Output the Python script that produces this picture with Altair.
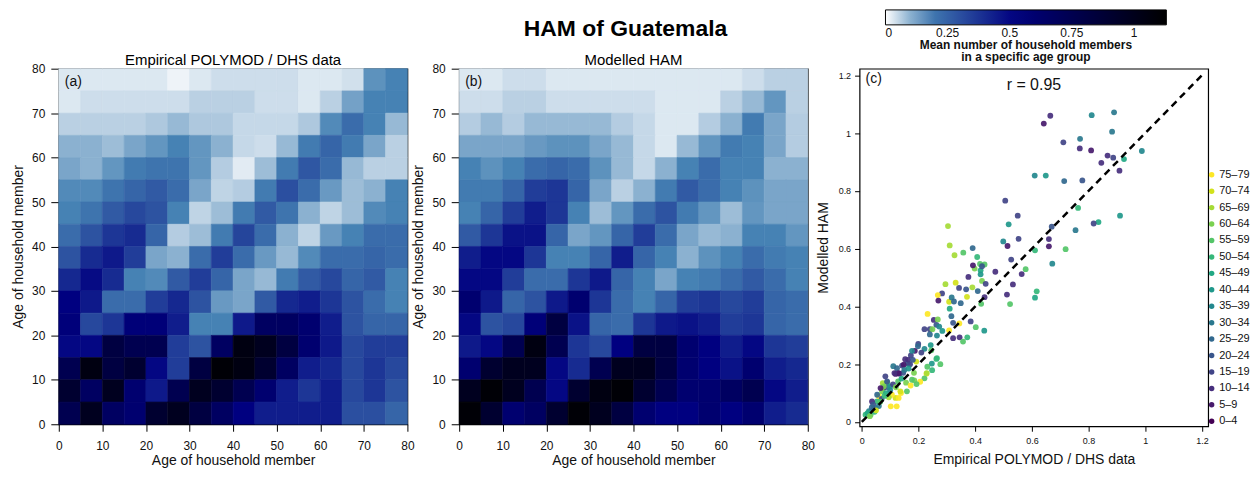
import altair as alt
import pandas as pd

FONT = "Liberation Sans"

# ---------------- data ----------------
age_starts = [0, 5, 10, 15, 20, 25, 30, 35, 40, 45, 50, 55, 60, 65, 70, 75]
age_groups = ["0–4", "5–9", "10–14", "15–19", "20–24", "25–29", "30–34", "35–39",
              "40–44", "45–49", "50–54", "55–59", "60–64", "65–69", "70–74", "75–79"]
axis_ticks = [0, 10, 20, 30, 40, 50, 60, 70, 80]

# Empirical POLYMOD / DHS matrix, rows from oldest (75-79) to youngest (0-4)
emp_rows = [
    [0.03, 0.03, 0.03, 0.03, 0.03, 0.015, 0.03, 0.043, 0.043, 0.043, 0.043, 0.03, 0.03, 0.04, 0.14, 0.16],
    [0.03, 0.043, 0.043, 0.043, 0.043, 0.043, 0.06, 0.06, 0.06, 0.043, 0.043, 0.03, 0.06, 0.12, 0.16, 0.16],
    [0.06, 0.06, 0.06, 0.06, 0.07, 0.09, 0.07, 0.07, 0.05, 0.05, 0.05, 0.07, 0.15, 0.22, 0.16, 0.09],
    [0.1, 0.1, 0.085, 0.115, 0.135, 0.16, 0.135, 0.1, 0.05, 0.043, 0.09, 0.18, 0.24, 0.18, 0.115, 0.06],
    [0.115, 0.1, 0.135, 0.18, 0.2, 0.2, 0.135, 0.065, 0.025, 0.085, 0.18, 0.28, 0.22, 0.09, 0.06, 0.06],
    [0.15, 0.15, 0.2, 0.24, 0.27, 0.22, 0.115, 0.055, 0.065, 0.18, 0.3, 0.22, 0.13, 0.085, 0.1, 0.16],
    [0.16, 0.2, 0.27, 0.32, 0.29, 0.16, 0.055, 0.085, 0.18, 0.27, 0.2, 0.1, 0.055, 0.085, 0.15, 0.16],
    [0.22, 0.29, 0.37, 0.4, 0.24, 0.065, 0.085, 0.18, 0.33, 0.22, 0.1, 0.055, 0.13, 0.16, 0.22, 0.22],
    [0.29, 0.4, 0.45, 0.35, 0.115, 0.1, 0.22, 0.35, 0.22, 0.13, 0.09, 0.15, 0.22, 0.22, 0.24, 0.22],
    [0.41, 0.49, 0.4, 0.16, 0.15, 0.27, 0.35, 0.24, 0.115, 0.09, 0.18, 0.27, 0.32, 0.24, 0.27, 0.16],
    [0.52, 0.45, 0.22, 0.22, 0.35, 0.41, 0.29, 0.13, 0.115, 0.27, 0.41, 0.44, 0.37, 0.29, 0.22, 0.16],
    [0.55, 0.32, 0.37, 0.56, 0.56, 0.44, 0.16, 0.16, 0.45, 0.67, 0.67, 0.6, 0.44, 0.29, 0.24, 0.24],
    [0.5, 0.5, 0.82, 0.75, 0.75, 0.35, 0.29, 0.67, 1.05, 0.98, 0.82, 0.6, 0.45, 0.32, 0.35, 0.35],
    [0.75, 1.05, 0.82, 0.9, 0.5, 0.35, 0.82, 1.1, 1.05, 0.9, 0.67, 0.44, 0.41, 0.32, 0.37, 0.32],
    [0.9, 0.67, 0.98, 0.6, 0.45, 0.75, 0.98, 0.9, 0.75, 0.6, 0.44, 0.37, 0.44, 0.32, 0.37, 0.29],
    [0.75, 0.98, 0.67, 0.6, 0.9, 0.98, 0.82, 0.67, 0.52, 0.44, 0.44, 0.44, 0.44, 0.3, 0.3, 0.24],
]

# Modelled HAM matrix, rows from oldest (75-79) to youngest (0-4)
mod_rows = [
    [0.03, 0.03, 0.043, 0.043, 0.03, 0.03, 0.03, 0.03, 0.03, 0.03, 0.03, 0.03, 0.03, 0.043, 0.06, 0.06],
    [0.043, 0.043, 0.06, 0.06, 0.043, 0.043, 0.043, 0.043, 0.043, 0.03, 0.03, 0.03, 0.06, 0.09, 0.135, 0.06],
    [0.065, 0.09, 0.065, 0.09, 0.09, 0.09, 0.09, 0.065, 0.05, 0.03, 0.03, 0.065, 0.1, 0.18, 0.115, 0.065],
    [0.115, 0.115, 0.115, 0.13, 0.14, 0.14, 0.115, 0.09, 0.05, 0.03, 0.09, 0.135, 0.18, 0.16, 0.115, 0.065],
    [0.16, 0.14, 0.16, 0.22, 0.24, 0.22, 0.14, 0.09, 0.05, 0.1, 0.16, 0.22, 0.16, 0.16, 0.1, 0.1],
    [0.18, 0.18, 0.24, 0.35, 0.37, 0.24, 0.115, 0.06, 0.1, 0.18, 0.27, 0.22, 0.16, 0.14, 0.115, 0.115],
    [0.16, 0.24, 0.35, 0.44, 0.37, 0.16, 0.085, 0.135, 0.22, 0.29, 0.18, 0.135, 0.085, 0.135, 0.115, 0.115],
    [0.27, 0.37, 0.47, 0.47, 0.24, 0.115, 0.135, 0.24, 0.35, 0.22, 0.115, 0.09, 0.1, 0.16, 0.16, 0.135],
    [0.44, 0.5, 0.5, 0.37, 0.16, 0.16, 0.24, 0.44, 0.24, 0.16, 0.1, 0.14, 0.16, 0.22, 0.18, 0.16],
    [0.5, 0.5, 0.35, 0.22, 0.22, 0.37, 0.45, 0.24, 0.16, 0.115, 0.16, 0.18, 0.22, 0.27, 0.22, 0.16],
    [0.6, 0.45, 0.24, 0.29, 0.45, 0.6, 0.37, 0.22, 0.16, 0.24, 0.35, 0.37, 0.32, 0.35, 0.24, 0.22],
    [0.5, 0.29, 0.32, 0.56, 0.82, 0.47, 0.24, 0.22, 0.37, 0.45, 0.47, 0.44, 0.35, 0.37, 0.24, 0.22],
    [0.45, 0.5, 0.75, 1.05, 0.75, 0.37, 0.32, 0.52, 0.82, 0.82, 0.6, 0.52, 0.44, 0.5, 0.37, 0.35],
    [0.6, 0.9, 0.98, 0.98, 0.5, 0.4, 0.75, 0.98, 0.98, 0.82, 0.6, 0.52, 0.47, 0.6, 0.44, 0.41],
    [0.98, 1.1, 0.98, 0.75, 0.5, 0.9, 1.05, 1.1, 0.9, 0.75, 0.6, 0.6, 0.67, 0.75, 0.5, 0.44],
    [1.1, 0.9, 0.6, 0.67, 0.9, 1.1, 0.98, 0.82, 0.6, 0.52, 0.52, 0.6, 0.52, 0.6, 0.44, 0.4],
]

# Scatter: empirical value, modelled value, age-group index
emp_x = [0.665, 0.642, 0.811, 0.890, 0.883, 0.770, 0.711, 0.769, 0.809, 0.845, 0.867, 0.887, 0.909, 0.925, 0.988,
         0.610, 0.649, 0.714, 0.778, 0.506, 0.550, 0.518, 0.763, 0.911, 0.835, 0.818, 0.754, 0.670, 0.553, 0.660,
         0.499, 0.514, 0.660, 0.611, 0.719, 0.672, 0.527, 0.578, 0.564, 0.471, 0.533, 0.512, 0.617, 0.611, 0.523,
         0.304, 0.310, 0.327, 0.358, 0.391, 0.407, 0.398, 0.417, 0.433, 0.419, 0.424, 0.392, 0.419, 0.424, 0.437,
         0.409, 0.376, 0.368, 0.343, 0.390, 0.371, 0.421, 0.433, 0.295, 0.331, 0.283, 0.268, 0.270, 0.308, 0.317,
         0.325, 0.349, 0.310, 0.316, 0.232, 0.254, 0.268, 0.322, 0.344, 0.384, 0.263, 0.273, 0.221, 0.240, 0.249,
         0.284, 0.308, 0.402, 0.432, 0.240, 0.265, 0.322, 0.345, 0.357, 0.372, 0.243, 0.199, 0.187, 0.221, 0.245,
         0.263, 0.277, 0.247, 0.231, 0.248, 0.228, 0.221, 0.206, 0.184, 0.192, 0.173, 0.153, 0.162, 0.142, 0.111,
         0.124, 0.119, 0.133, 0.146, 0.128, 0.156, 0.172, 0.185, 0.193, 0.159, 0.138, 0.123, 0.102, 0.119, 0.074,
         0.090, 0.092, 0.076, 0.089, 0.077, 0.100, 0.177, 0.136, 0.106, 0.130, 0.054, 0.036, 0.048, 0.025, 0.013,
         0.031, 0.042, 0.060, 0.071, 0.083, 0.066, 0.054, 0.198, 0.177, 0.163, 0.148, 0.130, 0.115, 0.229, 0.265,
         0.020, 0.028, 0.045, 0.060, 0.070, 0.085, 0.095, 0.040, 0.065, 0.110, 0.100, 0.140, 0.150, 0.170, 0.180,
         0.210, 0.050, 0.035, 0.080, 0.120, 0.165]
mod_y = [1.060, 1.033, 1.062, 1.072, 1.005, 0.980, 0.968, 0.947, 0.940, 0.897, 0.922, 0.915, 0.870, 0.910, 0.938,
         0.853, 0.853, 0.834, 0.836, 0.766, 0.714, 0.684, 0.741, 0.714, 0.692, 0.687, 0.664, 0.676, 0.634, 0.633,
         0.625, 0.609, 0.608, 0.594, 0.598, 0.548, 0.562, 0.529, 0.512, 0.520, 0.476, 0.441, 0.452, 0.430, 0.408,
         0.678, 0.611, 0.577, 0.586, 0.602, 0.571, 0.531, 0.547, 0.545, 0.525, 0.539, 0.542, 0.511, 0.488, 0.478,
         0.453, 0.502, 0.459, 0.464, 0.466, 0.433, 0.409, 0.432, 0.477, 0.482, 0.445, 0.439, 0.420, 0.416, 0.431,
         0.417, 0.411, 0.392, 0.366, 0.374, 0.353, 0.355, 0.343, 0.341, 0.348, 0.336, 0.330, 0.321, 0.321, 0.321,
         0.315, 0.317, 0.328, 0.316, 0.303, 0.299, 0.290, 0.293, 0.278, 0.293, 0.266, 0.270, 0.246, 0.253, 0.248,
         0.218, 0.200, 0.202, 0.191, 0.179, 0.167, 0.151, 0.139, 0.170, 0.209, 0.230, 0.217, 0.203, 0.195, 0.193,
         0.186, 0.166, 0.167, 0.170, 0.140, 0.136, 0.126, 0.144, 0.131, 0.106, 0.100, 0.054, 0.054, 0.083, 0.134,
         0.137, 0.120, 0.117, 0.140, 0.123, 0.123, 0.146, 0.106, 0.094, 0.083, 0.071, 0.071, 0.048, 0.037, 0.025,
         0.025, 0.043, 0.089, 0.106, 0.158, 0.117, 0.094, 0.262, 0.246, 0.215, 0.198, 0.169, 0.169, 0.169, 0.221,
         0.030, 0.020, 0.035, 0.055, 0.080, 0.100, 0.085, 0.060, 0.070, 0.130, 0.110, 0.150, 0.180, 0.200, 0.215,
         0.240, 0.040, 0.050, 0.090, 0.120, 0.185]
grp = [2, 1, 7, 6, 6, 6, 3, 2, 1, 2, 2, 3, 2, 9, 7,
       7, 8, 5, 4, 3, 3, 8, 10, 8, 9, 3, 6, 4, 3, 2,
       7, 1, 1, 10, 11, 7, 3, 11, 2, 2, 2, 2, 10, 9, 11,
       13, 13, 13, 11, 5, 10, 12, 11, 11, 9, 4, 1, 8, 12, 3,
       5, 2, 4, 3, 13, 14, 11, 2, 13, 14, 3, 15, 1, 14, 6,
       5, 5, 9, 5, 15, 2, 12, 4, 15, 3, 4, 7, 3, 3, 12,
       8, 15, 11, 8, 5, 7, 2, 2, 11, 10, 8, 3, 1, 7, 11,
       10, 11, 8, 11, 10, 15, 11, 15, 12, 14, 3, 2, 5, 3, 6,
       5, 1, 1, 4, 11, 12, 15, 12, 11, 11, 15, 15, 15, 14, 13,
       11, 5, 1, 4, 12, 8, 11, 14, 15, 15, 10, 2, 8, 7, 10,
       11, 2, 15, 12, 3, 1, 5, 5, 7, 2, 1, 1, 2, 13, 10,
       9, 12, 10, 6, 3, 9, 13, 4, 11, 3, 7, 9, 6, 3, 4,
       3, 14, 5, 10, 12, 8]

diag_vals = [0, 1.2]
scatter_ticks = [0, 0.2, 0.4, 0.6, 0.8, 1, 1.2]
cbar_ticks = [0, 0.25, 0.5, 0.75, 1]
correlation_label = "r = 0.95"

viridis16 = ["#440154", "#481A6C", "#472F7D", "#414487", "#39568C", "#31688E", "#2A788E", "#23888E",
             "#1F988B", "#22A884", "#35B779", "#54C568", "#7AD151", "#A5DB36", "#D2E21B", "#FDE725"]

# ---------------- tables ----------------
def grid_table(rows):
    recs = []
    n = len(age_starts)
    for i, row in enumerate(rows):
        ya = age_starts[n - 1 - i]
        for j, v in enumerate(row):
            xa = age_starts[j]
            recs.append({"x0": xa, "x1": xa + 5, "y0": ya, "y1": ya + 5, "value": v})
    return pd.DataFrame(recs)

emp_df = grid_table(emp_rows)
mod_df = grid_table(mod_rows)
sc_df = pd.DataFrame({"emp": emp_x, "mod": mod_y, "group": [age_groups[g] for g in grp]})

cmap_domain = [0, 0.16, 0.52, 1.13]
cmap_range = ["#ffffff", "#4682b4", "#000080", "#000000"]

def heat_panel(df, title, tag):
    xs = alt.Scale(domain=[0, 80], nice=False, zero=False)
    ax_x = alt.Axis(values=axis_ticks, title="Age of household member", tickSize=7, labelPadding=9,
                    labelFontSize=12, titleFontSize=14, titlePadding=2, labelFlush=False, labelOverlap=False)
    ax_y = alt.Axis(values=axis_ticks, title="Age of household member", tickSize=8, labelPadding=6,
                    labelFontSize=12, titleFontSize=14, titlePadding=6, labelFlush=False, labelOverlap=False)
    cscale = alt.Scale(domain=cmap_domain, range=cmap_range, interpolate="rgb")
    rect = alt.Chart(df).mark_rect(strokeWidth=0.6).encode(
        x=alt.X("x0:Q", scale=xs, axis=ax_x),
        x2="x1:Q",
        y=alt.Y("y0:Q", scale=xs, axis=ax_y),
        y2="y1:Q",
        color=alt.Color("value:Q", scale=cscale, legend=None),
        stroke=alt.Stroke("value:Q", scale=cscale, legend=None),
    )
    lab = alt.Chart(pd.DataFrame({"t": [tag]})).mark_text(
        align="left", baseline="middle", fontSize=14, font=FONT, color="#111"
    ).encode(text="t:N", x=alt.value(6), y=alt.value(13))
    return alt.layer(rect, lab).properties(
        width=350, height=357,
        title=alt.Title(title, fontSize=15, fontWeight="normal", font=FONT, offset=2, dy=7, color="#000"),
    )

panel_a = heat_panel(emp_df, "Empirical POLYMOD / DHS data", "(a)")
panel_b = heat_panel(mod_df, "Modelled HAM", "(b)")

# ---------------- scatter panel ----------------
sx = alt.Scale(domain=[-0.008, 1.222], nice=False, zero=False)
sy = alt.Scale(domain=[-0.015, 1.223], nice=False, zero=False)

def ax_c_x():
    return alt.Axis(values=scatter_ticks, format=".1~f", title="Empirical POLYMOD / DHS data", tickSize=5,
                    labelPadding=5, labelFontSize=9, titleFontSize=14, titlePadding=7, labelFlush=False,
                    labelOverlap=False)

def ax_c_y():
    return alt.Axis(values=scatter_ticks, format=".1~f", title="Modelled HAM", tickSize=5,
                    labelPadding=4, labelFontSize=9, titleFontSize=14, titlePadding=8, labelFlush=False,
                    labelOverlap=False)

pts = alt.Chart(sc_df).mark_circle(size=34, opacity=0.92).encode(
    x=alt.X("emp:Q", scale=sx, axis=ax_c_x()),
    y=alt.Y("mod:Q", scale=sy, axis=ax_c_y()),
    color=alt.Color(
        "group:N",
        scale=alt.Scale(domain=age_groups[::-1], range=viridis16[::-1]),
        legend=alt.Legend(orient="none", legendX=348, legendY=101, title=None, labelFontSize=11,
                          labelFont=FONT, symbolSize=30, symbolType="circle", rowPadding=4.5,
                          labelOffset=2, padding=0, symbolStrokeWidth=0, symbolOpacity=1,
                          labelColor="#111"),
    ),
)

diag = alt.Chart(pd.DataFrame({"v": diag_vals})).mark_line(
    color="black", strokeDash=[7, 5], strokeWidth=2.5
).encode(x=alt.X("v:Q", scale=sx, axis=ax_c_x()), y=alt.Y("v:Q", scale=sy, axis=ax_c_y()))

cbar = alt.Chart(pd.DataFrame({"v": cbar_ticks})).mark_circle(size=0, opacity=1).encode(
    x=alt.value(0), y=alt.value(0),
    fill=alt.Fill(
        "v:Q",
        scale=alt.Scale(domain=cmap_domain, range=cmap_range, interpolate="rgb"),
        legend=alt.Legend(
            orient="none", legendX=26, legendY=-59, direction="horizontal",
            gradientLength=282, gradientThickness=15, gradientStrokeColor="black", gradientStrokeWidth=1,
            values=cbar_ticks, format=".2~f", labelFontSize=12, labelFont=FONT, labelOffset=3,
            labelAlign="center", labelColor="#111", labelOverlap=False,
            title=["Mean number of household members", "in a specific age group"],
            titleOrient="bottom", titleAnchor="middle", titleFontSize=12, titleFont=FONT,
            titleFontWeight="bold", titleLineHeight=12, titlePadding=1, titleColor="#111",
            titleLimit=500, padding=0,
        ),
    ),
)

r_text = alt.Chart(pd.DataFrame({"t": [correlation_label]})).mark_text(
    align="center", baseline="middle", fontSize=16, font=FONT, color="#111"
).encode(text="t:N", x=alt.value(175), y=alt.value(16))

c_text = alt.Chart(pd.DataFrame({"t": ["(c)"]})).mark_text(
    align="left", baseline="middle", fontSize=14, font=FONT, color="#111"
).encode(text="t:N", x=alt.value(6), y=alt.value(10))

main_title = alt.Chart(pd.DataFrame({"t": ["HAM of Guatemala"]})).mark_text(
    align="center", baseline="middle", fontSize=23, fontWeight="bold", font=FONT, color="#000"
).encode(text="t:N", x=alt.value(-235), y=alt.value(-40))

panel_c = alt.layer(cbar, pts, diag, r_text, c_text, main_title).properties(width=350, height=359)

chart = alt.hconcat(panel_a, panel_b, panel_c, spacing=52, bounds="flush").resolve_scale(
    color="independent", fill="independent", stroke="independent"
).resolve_legend(
    color="independent", fill="independent", stroke="independent"
).properties(
    padding={"left": 3, "top": 0, "right": 0, "bottom": 0}
).configure_view(
    stroke="black", strokeWidth=1.2
).configure_axis(
    grid=False, domain=False, tickColor="black", labelColor="#111", titleColor="#111",
    labelFont=FONT, titleFont=FONT, titleFontWeight="normal"
).configure_text(font=FONT)

chart.save("out.html", embed_options={"renderer": "svg", "actions": False})
